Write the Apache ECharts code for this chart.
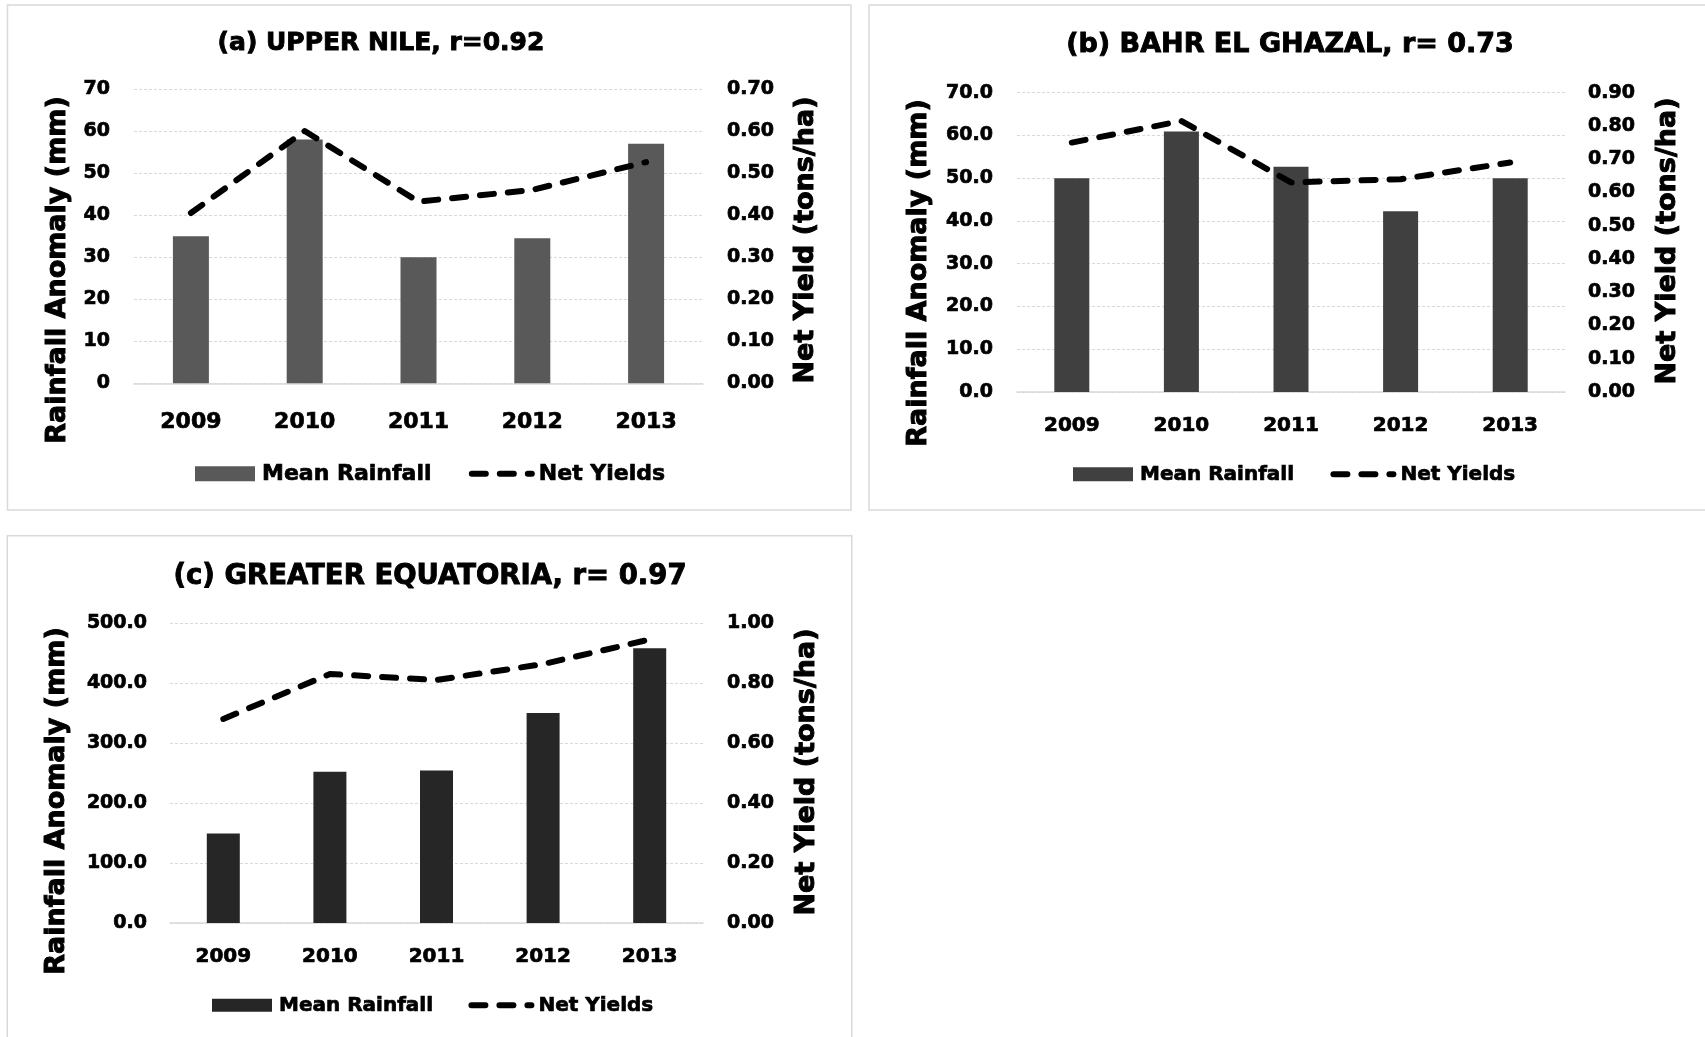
<!DOCTYPE html>
<html>
<head>
<meta charset="utf-8">
<script src="https://cdn.jsdelivr.net/npm/echarts@6/dist/echarts.min.js"></script>
<style>
html,body{margin:0;padding:0;background:#fff;width:1705px;height:1037px;overflow:hidden}
.c{position:absolute}
</style>
</head>
<body>
<div id="ca" class="c" style="left:0;top:0;width:860px;height:520px"></div>
<div id="cb" class="c" style="left:860px;top:0;width:845px;height:520px"></div>
<div id="cc" class="c" style="left:0;top:520px;width:860px;height:517px"></div>
<script>
// ---------- DATA ----------
const years = ['2009', '2010', '2011', '2012', '2013'];
const seriesNames = ['Mean Rainfall', 'Net Yields'];
const leftAxisTitle = 'Rainfall Anomaly (mm)';
const rightAxisTitle = 'Net Yield (tons/ha)';

const titleUpperNile = '(a) UPPER NILE, r=0.92';
const rainUpperNile = [35.0, 58.0, 30.0, 34.5, 57.0];
const yieldUpperNile = [0.405, 0.60, 0.432, 0.46, 0.526];
const leftTicksUpperNile = [0, 70, 10, 0];      // min, max, interval, decimals
const rightTicksUpperNile = [0, 0.7, 0.1, 2];

const titleBahr = '(b) BAHR EL GHAZAL, r= 0.73';
const rainBahr = [50.0, 60.9, 52.7, 42.3, 50.0];
const yieldBahr = [0.75, 0.815, 0.63, 0.64, 0.69];
const leftTicksBahr = [0, 70, 10, 1];
const rightTicksBahr = [0, 0.9, 0.1, 2];

const titleEquatoria = '(c) GREATER EQUATORIA, r= 0.97';
const rainEquatoria = [149.0, 252.0, 254.0, 350.0, 458.0];
const yieldEquatoria = [0.68, 0.83, 0.81, 0.863, 0.945];
const leftTicksEquatoria = [0, 500, 100, 1];
const rightTicksEquatoria = [0, 1.0, 0.2, 2];

// ---------- STYLE / LAYOUT ----------
const FONT = "'DejaVu Sans', sans-serif";
const DASH = [14, 14];

function buildOption(title, rain, yld, lt, rt, L) {
  const heavy = { textBorderColor: '#000', textBorderWidth: 0.7 };
  return {
    animation: false,
    backgroundColor: '#ffffff',
    title: {
      text: title,
      left: L.titleX, top: L.titleY,
      textAlign: 'center', textVerticalAlign: 'middle',
      padding: 0,
      textStyle: Object.assign({ fontFamily: FONT, fontWeight: 'bold', fontSize: L.titleSize, color: '#000' }, heavy, { textBorderWidth: 0.9 })
    },
    grid: { left: L.grid[0], top: L.grid[1], width: L.grid[2], height: L.grid[3], containLabel: false },
    legend: {
      left: L.legend[0], top: L.legend[1],
      padding: 0,
      itemWidth: 60, itemHeight: L.legend[2], itemGap: L.legend[3],
      textStyle: Object.assign({ fontFamily: FONT, fontWeight: 'bold', fontSize: L.legendSize, color: '#000', padding: [0, 0, 0, 2] }, heavy),
      data: [
        { name: seriesNames[0], icon: 'rect' },
        { name: seriesNames[1], itemStyle: { opacity: 0 },
          lineStyle: { color: '#000', width: 6, type: DASH, cap: 'round', opacity: 1 } }
      ]
    },
    xAxis: {
      type: 'category',
      data: years,
      axisLine: { show: true, lineStyle: { color: '#d9d9d9', width: 1.5 } },
      axisTick: { show: false },
      axisLabel: Object.assign({ color: '#000', fontFamily: FONT, fontWeight: 'bold', fontSize: L.catSize, margin: L.catMargin }, heavy)
    },
    yAxis: [
      {
        type: 'value', min: lt[0], max: lt[1], interval: lt[2],
        axisLine: { show: false }, axisTick: { show: false },
        axisLabel: Object.assign({ color: '#000', fontFamily: FONT, fontWeight: 'bold', fontSize: 19, margin: L.leftMargin,
          formatter: v => v.toFixed(lt[3]) }, heavy),
        splitLine: { show: true, lineStyle: { color: '#d9d9d9', width: 1, type: [3, 2] } }
      },
      {
        type: 'value', min: rt[0], max: rt[1], interval: rt[2],
        axisLine: { show: false }, axisTick: { show: false },
        axisLabel: Object.assign({ color: '#000', fontFamily: FONT, fontWeight: 'bold', fontSize: 19, margin: L.rightMargin,
          formatter: v => v.toFixed(rt[3]) }, heavy),
        splitLine: { show: false }
      }
    ],
    series: [
      {
        name: seriesNames[0], type: 'bar', yAxisIndex: 0,
        data: rain, barWidth: L.barWidth,
        itemStyle: { color: L.barColor }
      },
      {
        name: seriesNames[1], type: 'line', yAxisIndex: 1,
        data: yld, symbol: 'none', showSymbol: false, z: 5,
        lineStyle: { color: '#000', width: 6, type: DASH, cap: 'round', join: 'round' },
        itemStyle: { color: '#000' }
      }
    ],
    graphic: [
      { type: 'rect', silent: true, z: -10,
        shape: { x: L.border[0], y: L.border[1], width: L.border[2], height: L.border[3] },
        style: { fill: 'none', stroke: '#d9d9d9', lineWidth: 1.5 } },
      { type: 'text', x: L.leftName[0], y: L.leftName[1], rotation: Math.PI / 2, silent: true,
        style: { text: leftAxisTitle, font: 'bold 27px ' + FONT, fill: '#000', stroke: '#000', lineWidth: 1,
          align: 'center', verticalAlign: 'middle', textAlign: 'center', textVerticalAlign: 'middle' } },
      { type: 'text', x: L.rightName[0], y: L.rightName[1], rotation: Math.PI / 2, silent: true,
        style: { text: rightAxisTitle, font: 'bold 27px ' + FONT, fill: '#000', stroke: '#000', lineWidth: 1,
          align: 'center', verticalAlign: 'middle', textAlign: 'center', textVerticalAlign: 'middle' } }
    ]
  };
}

const layoutA = {
  titleX: 381, titleY: 43, titleSize: 25,
  grid: [134, 89, 569, 294.3],
  legend: [195, 462.5, 15, 37], legendSize: 22,
  catSize: 22, catMargin: 28,
  leftMargin: 24, rightMargin: 24,
  barWidth: 36, barColor: '#595959',
  border: [7.5, 5, 843.5, 505],
  leftName: [58, 270], rightName: [806, 240]
};
const layoutB = {
  titleX: 430, titleY: 45, titleSize: 27,
  grid: [157, 92.7, 548, 299.3],
  legend: [213, 464, 14, 36], legendSize: 20,
  catSize: 20, catMargin: 24,
  leftMargin: 24, rightMargin: 23,
  barWidth: 35, barColor: '#404040',
  border: [9, 5, 900, 505],
  leftName: [59, 273], rightName: [808, 241]
};
const layoutC = {
  titleX: 430, titleY: 57, titleSize: 27.5,
  grid: [170, 103, 533, 300],
  legend: [212, 475, 13, 35], legendSize: 20,
  catSize: 20, catMargin: 24,
  leftMargin: 23, rightMargin: 24,
  barWidth: 33, barColor: '#262626',
  border: [7.3, 15.7, 844.5, 600],
  leftName: [57, 281], rightName: [807, 252]
};

echarts.init(document.getElementById('ca'), null, { renderer: 'canvas' })
  .setOption(buildOption(titleUpperNile, rainUpperNile, yieldUpperNile, leftTicksUpperNile, rightTicksUpperNile, layoutA));
echarts.init(document.getElementById('cb'), null, { renderer: 'canvas' })
  .setOption(buildOption(titleBahr, rainBahr, yieldBahr, leftTicksBahr, rightTicksBahr, layoutB));
echarts.init(document.getElementById('cc'), null, { renderer: 'canvas' })
  .setOption(buildOption(titleEquatoria, rainEquatoria, yieldEquatoria, leftTicksEquatoria, rightTicksEquatoria, layoutC));
</script>
</body>
</html>
